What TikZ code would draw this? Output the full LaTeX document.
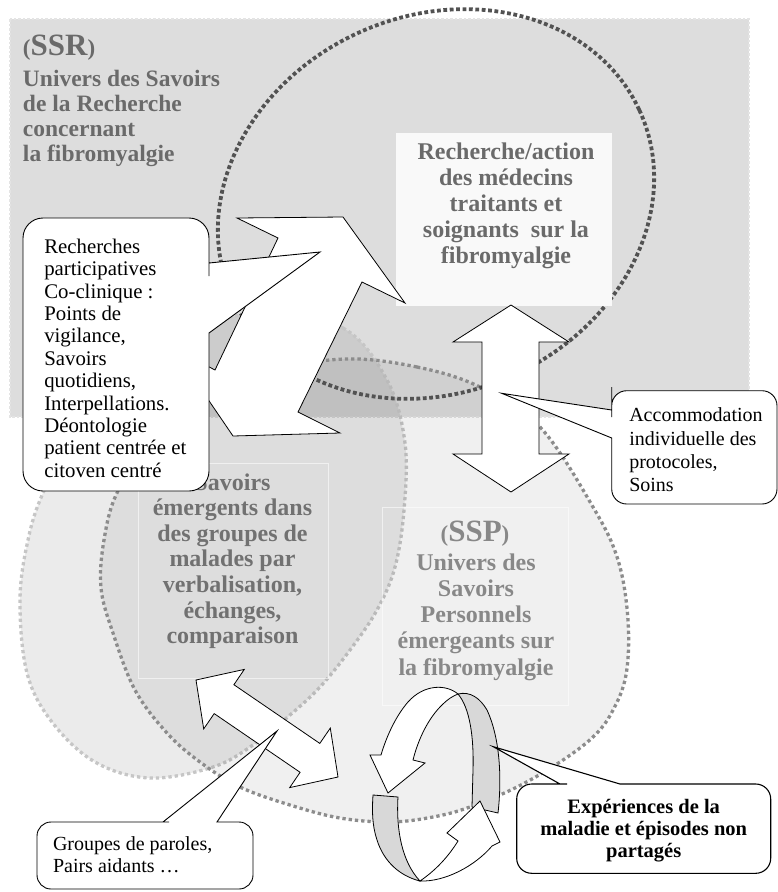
\documentclass[tikz,border=0pt]{standalone}
\usepackage{fontspec}
\setmainfont{Liberation Serif}
\definecolor{gtxt}{HTML}{6A6A6A}
\definecolor{gtxtb}{HTML}{717171}
\definecolor{gtxtc}{HTML}{888888}
\definecolor{dkdotc}{HTML}{525252}
\definecolor{mddotc}{HTML}{8C8C8C}
\definecolor{ltdotc}{HTML}{C6C6C6}
\definecolor{bandc}{HTML}{D8D8D8}
\definecolor{boxc}{HTML}{F9F9F9}
\definecolor{edgec}{HTML}{E4E4E4}
\begin{document}
\begin{tikzpicture}[x=1pt,y=-1pt,
  txt/.style={inner sep=0pt, outer sep=0pt},
  dkdot/.style={draw=dkdotc, line width=3.8pt, dash pattern=on 3.8pt off 2.6pt},
  mddot/.style={draw=mddotc, line width=3.3pt, dash pattern=on 3.3pt off 3pt},
  ltdot/.style={draw=ltdotc, line width=3.3pt, dash pattern=on 3.3pt off 3pt},
  arrowshape/.style={draw=black, line width=0.8pt, fill=white, line join=miter},
  bandshape/.style={draw=black, line width=0.8pt, fill=bandc},
  callout/.style={draw=black, line width=0.9pt, fill=white},
  faintbox/.style={draw=white, draw opacity=0.55, line width=0.8pt}
]
\useasboundingbox (0,0) rectangle (778,892);

% SSR universe rectangle
\fill[black, fill opacity=0.135] (10,19) rectangle (749,417);
\draw[edgec, line width=2.5pt, dash pattern=on 2.5pt off 2pt] (10,19) rectangle (749,417);

% left circle (groupes de malades)
\draw[ltdot, fill=black, fill opacity=0.08] plot[smooth cycle, tension=0.6] coordinates {(265,312) (343,328) (387,380) (405,443) (404,510) (395,567) (377,610) (350,650) (320,687) (290,715) (253,745) (213,767) (150,778) (95,762) (52,722) (27,673) (20,600) (28,540) (43,493) (75,432) (125,375) (190,332)};

% SSP circle
\draw[mddot, fill=black, fill opacity=0.06] plot[smooth cycle, tension=0.6] coordinates {(345,359) (417,367) (480,387) (540,427) (593,507) (618,560) (628,620) (626,675) (612,712) (593,737) (560,762) (517,787) (470,807) (433,817) (390,822) (340,818) (290,805) (240,787) (200,762) (167,733) (135,690) (113,633) (101,588) (104,540) (117,493) (150,445) (200,405) (270,372)};

% research/action circle
\draw[dkdot, rotate around={24.8:(436,204)}] (436,204) ellipse [x radius=224, y radius=188];

% research/action box
\node[fill=boxc, minimum width=216pt, minimum height=173pt, inner sep=0pt, anchor=north west] (rabox) at (396,133) {};
\node[txt, anchor=base, text=gtxt] (rechtext) at (506,159.3) {\parbox[t]{214pt}{\centering\fontsize{24}{26}\selectfont\bfseries Recherche/action\\des médecins\\traitants et\\soignants\ \ sur la\\fibromyalgie}};

% faint text boxes
\draw[faintbox] (138,463) rectangle (328,678);
\draw[faintbox] (382,507) rectangle (568,705);

% SSR texts
\node[txt, anchor=base west, text=gtxt] (ssrtitle) at (23,55) {\bfseries\fontsize{23}{23}\selectfont(\fontsize{31}{31}\selectfont SSR\fontsize{23}{23}\selectfont)};
\node[txt, anchor=base west, text=gtxt] (ssrtext) at (23,86) {\parbox[t]{260pt}{\raggedright\fontsize{23.5}{25.3}\selectfont\bfseries Univers des Savoirs\\de la Recherche\\concernant\\la fibromyalgie}};

% Savoirs emergents text
\node[txt, anchor=base, text=gtxtb] (savtext) at (232.5,490) {\parbox[t]{200pt}{\centering\fontsize{24}{25.6}\selectfont\bfseries Savoirs\\émergents dans\\des groupes de\\malades par\\verbalisation,\\échanges,\\comparaison}};

% SSP texts
\node[txt, anchor=base, text=gtxtc] (ssptitle) at (475,541.7) {\bfseries\fontsize{23}{23}\selectfont(\fontsize{31}{31}\selectfont SSP\fontsize{23}{23}\selectfont)};
\node[txt, anchor=base, text=gtxtc] (ssptext) at (476,570) {\parbox[t]{200pt}{\centering\fontsize{24}{26.3}\selectfont\bfseries Univers des\\Savoirs\\Personnels\\émergeants sur\\la fibromyalgie}};

% big tilted double arrow
\draw[arrowshape] (343,217) -- (405,303) -- (362,282) -- (298,412) -- (340,433) -- (233,436) -- (173,348) -- (215,370) -- (278,238) -- (237,218) -- cycle;

% vertical double arrow
\draw[arrowshape] (511,305) -- (569,342) -- (539,342) -- (539,454) -- (569,454) -- (511,492) -- (453,454) -- (482,454) -- (482,342) -- (453,342) -- cycle;

% diagonal double arrow (bottom left)
\draw[arrowshape] (196,680) -- (244.3,669.4) -- (233.9,684.7) -- (319.8,743.4) -- (330.3,728.1) -- (338,777) -- (289.7,787.6) -- (300.1,772.3) -- (214.2,713.6) -- (203.7,728.9) -- cycle;

% circular arrows
\draw[bandshape] (458,694) .. controls (470,708) and (474,738) .. (473,770) -- (472,807) -- (498,813) .. controls (502,778) and (500,738) .. (487,710) .. controls (480,698) and (470,691) .. (458,694) -- cycle;
\draw[arrowshape] (458,694) .. controls (446,684) and (424,684) .. (408,702) .. controls (395,717) and (386,738) .. (381,755) -- (370,755) -- (388,793) -- (425,763) -- (413,760) .. controls (418,740) and (428,718) .. (443,704) .. controls (448,699) and (453,696) .. (458,694) -- cycle;
\draw[bandshape] (373,795) -- (398,797) .. controls (396,830) and (402,862) .. (420,881) .. controls (400,876) and (384,862) .. (377,840) .. controls (372,825) and (372,810) .. (373,795) -- cycle;
\draw[arrowshape] (420,881) .. controls (445,882) and (475,866) .. (492,846) -- (500,842) -- (480,801) -- (447,833) -- (458,841) .. controls (448,857) and (436,870) .. (420,881) -- cycle;

% callout 1
\draw[callout] (209,263) -- (320,252) -- (209,333) -- (209,340) [rounded corners=20pt] -- (209,491) -- (23,491) -- (23,218) -- (209,218) -- (209,256) [sharp corners] -- cycle;
\node[txt, anchor=base west] (c1text) at (44.3,253.3) {\parbox[t]{162pt}{\raggedright\fontsize{20.8}{22.4}\selectfont Recherches\\participatives\\Co-clinique :\\Points de\\vigilance,\\Savoirs\\quotidiens,\\Interpellations.\\Déontologie\\patient centrée et\\citoven centré}};

% callout 2
\draw[callout] (611.7,410) -- (501.7,393.3) -- (611.7,438) -- (611.7,445) [rounded corners=15pt] -- (611.7,504) -- (777,504) -- (777,390.7) -- (611.7,390.7) -- (611.7,402) [sharp corners] -- cycle;
\node[txt, anchor=base west] (c2text) at (629.3,421.7) {\parbox[t]{146pt}{\raggedright\fontsize{20}{23.3}\selectfont Accommodation\\individuelle des\\protocoles,\\Soins}};

% callout 3
\draw[callout] (163,822) -- (277,731) -- (217,822) -- (225,822) [rounded corners=14pt] -- (253,822) -- (253,889) -- (37,889) -- (37,822) -- (155,822) [sharp corners] -- cycle;
\node[txt, anchor=base west] (c3text) at (53,850.5) {\parbox[t]{195pt}{\raggedright\fontsize{20}{21.5}\selectfont Groupes de paroles,\\Pairs aidants \ldots}};

% callout 4
\draw[callout, line width=1.1pt] (560,784) -- (493.3,746.7) -- (620,784) -- (628,784) [rounded corners=15pt] -- (770.7,784) -- (770.7,873.3) -- (516.7,873.3) -- (516.7,784) -- (552,784) [sharp corners] -- cycle;
\node[txt, anchor=base] (c4text) at (643.7,813.3) {\parbox[t]{250pt}{\centering\fontsize{20.5}{22}\selectfont\bfseries Expériences de la\\maladie et épisodes non\\partagés}};
\end{tikzpicture}
\end{document}
